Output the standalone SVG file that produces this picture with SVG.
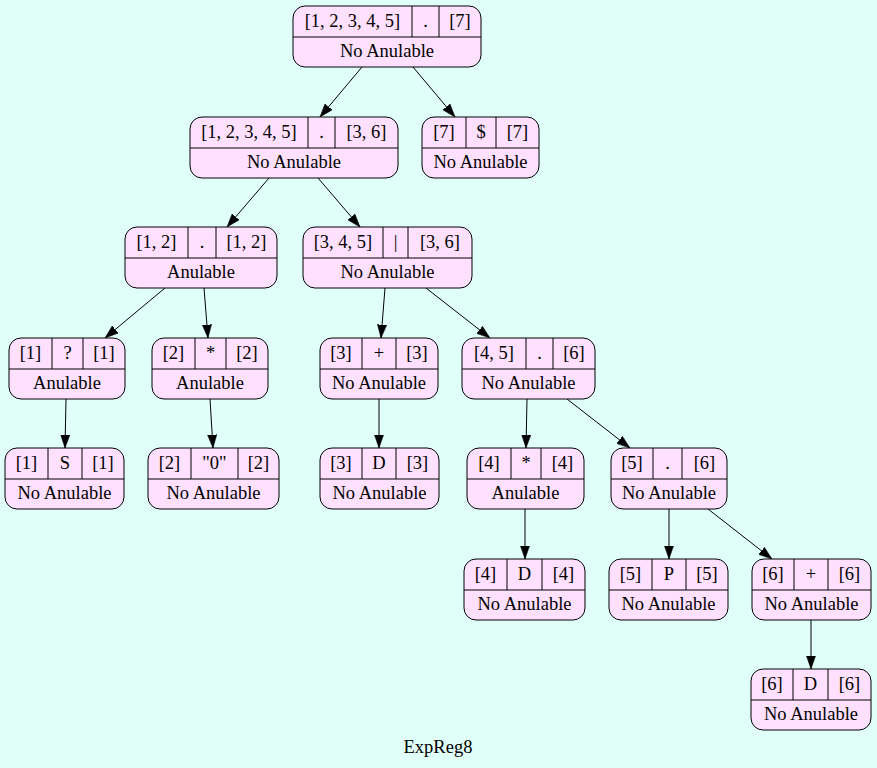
<svg xmlns="http://www.w3.org/2000/svg" width="877" height="768" viewBox="0 0 877 768">
<style>
  .box { fill: #ffe0ff; stroke: #000; stroke-width: 1; }
  .sep { stroke: #000; stroke-width: 1; }
  text { font-family: "Liberation Serif", "Times New Roman", serif; font-size: 18.5px; fill: #000; text-anchor: middle; }
  .edge { stroke: #000; stroke-width: 1; fill: none; marker-end: url(#arrow); }
</style>
<defs>
  <marker id="arrow" markerUnits="userSpaceOnUse" markerWidth="14" markerHeight="10" refX="13.3" refY="4.65" orient="auto" viewBox="0 0 14 9.3">
    <path d="M0,0 L13.3,4.65 L0,9.3 Z" fill="#000" stroke="#000" stroke-width="0.5"/>
  </marker>
</defs>
<rect x="0" y="0" width="877" height="768" fill="#e0fff8"/>

<g id="edges">
  <line class="edge" x1="362" y1="67" x2="320" y2="117"/>
  <line class="edge" x1="413" y1="67" x2="455" y2="117"/>
  <line class="edge" x1="269" y1="178" x2="227" y2="227"/>
  <line class="edge" x1="318" y1="178" x2="360" y2="227"/>
  <line class="edge" x1="165" y1="288" x2="105" y2="338"/>
  <line class="edge" x1="204" y1="288" x2="208" y2="338"/>
  <line class="edge" x1="385" y1="288" x2="381" y2="338"/>
  <line class="edge" x1="426" y1="288" x2="490" y2="338"/>
  <line class="edge" x1="66" y1="399" x2="65" y2="448"/>
  <line class="edge" x1="210" y1="399" x2="213" y2="448"/>
  <line class="edge" x1="379" y1="399" x2="379" y2="448"/>
  <line class="edge" x1="527" y1="399" x2="526" y2="448"/>
  <line class="edge" x1="567" y1="399" x2="630" y2="448"/>
  <line class="edge" x1="525" y1="509" x2="525" y2="559"/>
  <line class="edge" x1="669" y1="509" x2="669" y2="559"/>
  <line class="edge" x1="708" y1="509" x2="772" y2="559"/>
  <line class="edge" x1="811" y1="620" x2="811" y2="669"/>
</g>

<g id="n1">
  <rect class="box" x="293" y="6" width="188" height="61" rx="12"/>
  <line class="sep" x1="293" y1="37" x2="481" y2="37"/>
  <line class="sep" x1="412" y1="6" x2="412" y2="37"/>
  <line class="sep" x1="439" y1="6" x2="439" y2="37"/>
  <text x="352.5" y="27">[1, 2, 3, 4, 5]</text>
  <text x="425.5" y="27">.</text>
  <text x="460" y="27">[7]</text>
  <text x="387" y="57">No Anulable</text>
</g>

<g id="n2">
  <rect class="box" x="190" y="117" width="208" height="61" rx="12"/>
  <line class="sep" x1="190" y1="148" x2="398" y2="148"/>
  <line class="sep" x1="308" y1="117" x2="308" y2="148"/>
  <line class="sep" x1="335" y1="117" x2="335" y2="148"/>
  <text x="249" y="138">[1, 2, 3, 4, 5]</text>
  <text x="321.5" y="138">.</text>
  <text x="366.5" y="138">[3, 6]</text>
  <text x="294" y="168">No Anulable</text>
</g>

<g id="n3">
  <rect class="box" x="422" y="117" width="117" height="61" rx="12"/>
  <line class="sep" x1="422" y1="148" x2="539" y2="148"/>
  <line class="sep" x1="466" y1="117" x2="466" y2="148"/>
  <line class="sep" x1="496" y1="117" x2="496" y2="148"/>
  <text x="444" y="138">[7]</text>
  <text x="481" y="138">$</text>
  <text x="517.5" y="138">[7]</text>
  <text x="480.5" y="168">No Anulable</text>
</g>

<g id="n4">
  <rect class="box" x="125" y="227" width="152" height="61" rx="12"/>
  <line class="sep" x1="125" y1="258" x2="277" y2="258"/>
  <line class="sep" x1="188" y1="227" x2="188" y2="258"/>
  <line class="sep" x1="216" y1="227" x2="216" y2="258"/>
  <text x="156.5" y="248">[1, 2]</text>
  <text x="202" y="248">.</text>
  <text x="246.5" y="248">[1, 2]</text>
  <text x="201" y="278">Anulable</text>
</g>

<g id="n5">
  <rect class="box" x="303" y="227" width="169" height="61" rx="12"/>
  <line class="sep" x1="303" y1="258" x2="472" y2="258"/>
  <line class="sep" x1="383" y1="227" x2="383" y2="258"/>
  <line class="sep" x1="408" y1="227" x2="408" y2="258"/>
  <text x="343" y="248">[3, 4, 5]</text>
  <text x="395.5" y="248">|</text>
  <text x="440" y="248">[3, 6]</text>
  <text x="387.5" y="278">No Anulable</text>
</g>

<g id="n6">
  <rect class="box" x="9" y="338" width="116" height="61" rx="12"/>
  <line class="sep" x1="9" y1="369" x2="125" y2="369"/>
  <line class="sep" x1="52" y1="338" x2="52" y2="369"/>
  <line class="sep" x1="83" y1="338" x2="83" y2="369"/>
  <text x="30.5" y="359">[1]</text>
  <text x="67.5" y="359">?</text>
  <text x="104" y="359">[1]</text>
  <text x="67" y="389">Anulable</text>
</g>

<g id="n7">
  <rect class="box" x="152" y="338" width="116" height="61" rx="12"/>
  <line class="sep" x1="152" y1="369" x2="268" y2="369"/>
  <line class="sep" x1="195" y1="338" x2="195" y2="369"/>
  <line class="sep" x1="226" y1="338" x2="226" y2="369"/>
  <text x="173.5" y="359">[2]</text>
  <text x="210.5" y="359">*</text>
  <text x="247" y="359">[2]</text>
  <text x="210" y="389">Anulable</text>
</g>

<g id="n8">
  <rect class="box" x="320" y="338" width="118" height="61" rx="12"/>
  <line class="sep" x1="320" y1="369" x2="438" y2="369"/>
  <line class="sep" x1="362" y1="338" x2="362" y2="369"/>
  <line class="sep" x1="396" y1="338" x2="396" y2="369"/>
  <text x="341" y="359">[3]</text>
  <text x="379" y="359">+</text>
  <text x="417" y="359">[3]</text>
  <text x="379" y="389">No Anulable</text>
</g>

<g id="n9">
  <rect class="box" x="462" y="338" width="133" height="61" rx="12"/>
  <line class="sep" x1="462" y1="369" x2="595" y2="369"/>
  <line class="sep" x1="526" y1="338" x2="526" y2="369"/>
  <line class="sep" x1="553" y1="338" x2="553" y2="369"/>
  <text x="494" y="359">[4, 5]</text>
  <text x="539.5" y="359">.</text>
  <text x="574" y="359">[6]</text>
  <text x="528.5" y="389">No Anulable</text>
</g>

<g id="n10">
  <rect class="box" x="5" y="448" width="119" height="61" rx="12"/>
  <line class="sep" x1="5" y1="479" x2="124" y2="479"/>
  <line class="sep" x1="48" y1="448" x2="48" y2="479"/>
  <line class="sep" x1="82" y1="448" x2="82" y2="479"/>
  <text x="26.5" y="469">[1]</text>
  <text x="65" y="469">S</text>
  <text x="103" y="469">[1]</text>
  <text x="64.5" y="499">No Anulable</text>
</g>

<g id="n11">
  <rect class="box" x="148" y="448" width="131" height="61" rx="12"/>
  <line class="sep" x1="148" y1="479" x2="279" y2="479"/>
  <line class="sep" x1="191" y1="448" x2="191" y2="479"/>
  <line class="sep" x1="238" y1="448" x2="238" y2="479"/>
  <text x="169.5" y="469">[2]</text>
  <text x="214.5" y="469">"0"</text>
  <text x="258.5" y="469">[2]</text>
  <text x="213.5" y="499">No Anulable</text>
</g>

<g id="n12">
  <rect class="box" x="320" y="448" width="119" height="61" rx="12"/>
  <line class="sep" x1="320" y1="479" x2="439" y2="479"/>
  <line class="sep" x1="362" y1="448" x2="362" y2="479"/>
  <line class="sep" x1="396" y1="448" x2="396" y2="479"/>
  <text x="341" y="469">[3]</text>
  <text x="379" y="469">D</text>
  <text x="417.5" y="469">[3]</text>
  <text x="379.5" y="499">No Anulable</text>
</g>

<g id="n13">
  <rect class="box" x="467" y="448" width="117" height="61" rx="12"/>
  <line class="sep" x1="467" y1="479" x2="584" y2="479"/>
  <line class="sep" x1="511" y1="448" x2="511" y2="479"/>
  <line class="sep" x1="541" y1="448" x2="541" y2="479"/>
  <text x="489" y="469">[4]</text>
  <text x="526" y="469">*</text>
  <text x="562.5" y="469">[4]</text>
  <text x="525.5" y="499">Anulable</text>
</g>

<g id="n14">
  <rect class="box" x="611" y="448" width="116" height="61" rx="12"/>
  <line class="sep" x1="611" y1="479" x2="727" y2="479"/>
  <line class="sep" x1="653" y1="448" x2="653" y2="479"/>
  <line class="sep" x1="682" y1="448" x2="682" y2="479"/>
  <text x="632" y="469">[5]</text>
  <text x="667.5" y="469">.</text>
  <text x="704.5" y="469">[6]</text>
  <text x="669" y="499">No Anulable</text>
</g>

<g id="n15">
  <rect class="box" x="464" y="559" width="121" height="61" rx="12"/>
  <line class="sep" x1="464" y1="590" x2="585" y2="590"/>
  <line class="sep" x1="507" y1="559" x2="507" y2="590"/>
  <line class="sep" x1="542" y1="559" x2="542" y2="590"/>
  <text x="485.5" y="580">[4]</text>
  <text x="524.5" y="580">D</text>
  <text x="563.5" y="580">[4]</text>
  <text x="524.5" y="610">No Anulable</text>
</g>

<g id="n16">
  <rect class="box" x="609" y="559" width="119" height="61" rx="12"/>
  <line class="sep" x1="609" y1="590" x2="728" y2="590"/>
  <line class="sep" x1="652" y1="559" x2="652" y2="590"/>
  <line class="sep" x1="686" y1="559" x2="686" y2="590"/>
  <text x="630.5" y="580">[5]</text>
  <text x="669" y="580">P</text>
  <text x="707" y="580">[5]</text>
  <text x="668.5" y="610">No Anulable</text>
</g>

<g id="n17">
  <rect class="box" x="752" y="559" width="119" height="61" rx="12"/>
  <line class="sep" x1="752" y1="590" x2="871" y2="590"/>
  <line class="sep" x1="794" y1="559" x2="794" y2="590"/>
  <line class="sep" x1="828" y1="559" x2="828" y2="590"/>
  <text x="773" y="580">[6]</text>
  <text x="811" y="580">+</text>
  <text x="849.5" y="580">[6]</text>
  <text x="811.5" y="610">No Anulable</text>
</g>

<g id="n18">
  <rect class="box" x="751" y="669" width="120" height="61" rx="12"/>
  <line class="sep" x1="751" y1="700" x2="871" y2="700"/>
  <line class="sep" x1="793" y1="669" x2="793" y2="700"/>
  <line class="sep" x1="828" y1="669" x2="828" y2="700"/>
  <text x="772" y="690">[6]</text>
  <text x="810.5" y="690">D</text>
  <text x="849.5" y="690">[6]</text>
  <text x="811" y="720">No Anulable</text>
</g>

<text id="title" x="438" y="753">ExpReg8</text>
</svg>
